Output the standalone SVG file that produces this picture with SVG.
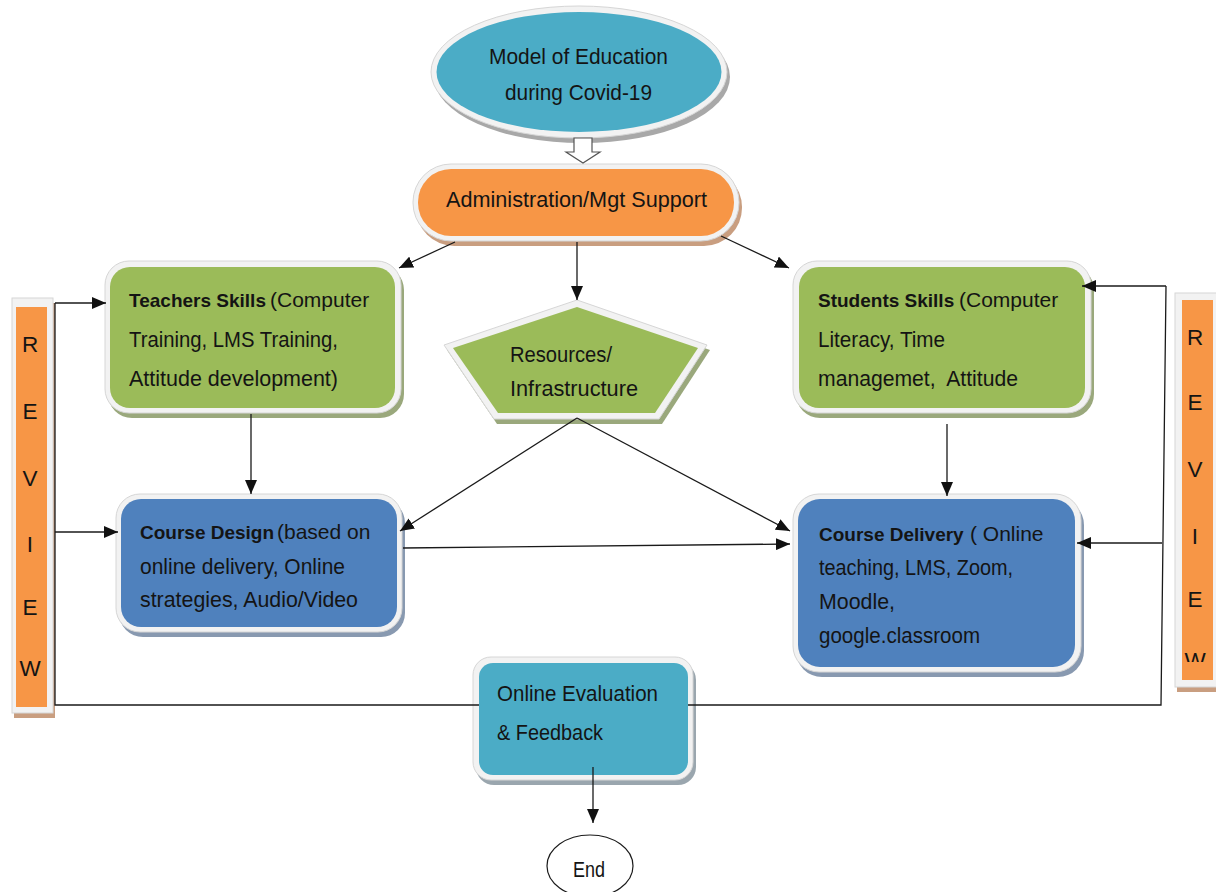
<svg xmlns="http://www.w3.org/2000/svg" width="1216" height="892" viewBox="0 0 1216 892">
<defs>
<style>
.t{font-family:"Liberation Sans",Arial,sans-serif;font-size:22.5px;fill:#141414}
.s{font-size:21px}
.b{font-weight:bold;font-size:19px}
.m{text-anchor:middle}
.rim{fill:#f2f2f2;stroke:#d6d6d6;stroke-width:1}
.c{fill:none;stroke:#1a1a1a;stroke-width:1.3}
</style>
<marker id="ah" viewBox="0 0 14 12" refX="14" refY="6" markerWidth="14" markerHeight="12" orient="auto" markerUnits="userSpaceOnUse"><path d="M0,0 L14,6 L0,12 z" fill="#111"/></marker>
<clipPath id="rclip"><rect x="1170" y="290" width="46" height="372"/></clipPath>
</defs>
<rect width="1216" height="892" fill="#ffffff"/>

<g id="start">
<ellipse cx="582" cy="77" rx="148" ry="66" fill="#a8a8a8"/>
<ellipse cx="579" cy="72" rx="148" ry="66" class="rim"/>
<ellipse cx="579" cy="72" rx="142.5" ry="60" fill="#4bacc6"/>
<text class="t" x="489" y="64" textLength="179" lengthAdjust="spacingAndGlyphs">Model of Education</text>
<text class="t" x="505" y="100" textLength="147" lengthAdjust="spacingAndGlyphs">during Covid-19</text>
</g>

<g id="admin">
<rect x="416" y="169" width="326" height="77" rx="38" fill="#c99e80"/>
<rect x="413" y="164" width="326" height="77" rx="38" class="rim"/>
<rect x="418" y="169" width="316" height="67" rx="33" fill="#f79646"/>
<text class="t" x="446" y="207" textLength="261" lengthAdjust="spacingAndGlyphs">Administration/Mgt Support</text>
</g>

<g id="teachers">
<rect x="108" y="266" width="296" height="152" rx="24" fill="#9aa87c"/>
<rect x="105" y="261" width="296" height="152" rx="24" class="rim"/>
<rect x="110" y="267" width="285" height="141" rx="20" fill="#9bbb59"/>
<text class="t b" x="129" y="307">Teachers Skills</text>
<text class="t s" x="270" y="307">(Computer</text>
<text class="t" x="129" y="347" textLength="209" lengthAdjust="spacingAndGlyphs">Training, LMS Training,</text>
<text class="t" x="129" y="386" textLength="209" lengthAdjust="spacingAndGlyphs">Attitude development)</text>
</g>

<g id="students">
<rect x="796" y="266" width="298" height="152" rx="24" fill="#9aa87c"/>
<rect x="793" y="261" width="298" height="152" rx="24" class="rim"/>
<rect x="799" y="267" width="286" height="141" rx="20" fill="#9bbb59"/>
<text class="t b" x="818" y="307">Students Skills</text>
<text class="t s" x="959" y="307">(Computer</text>
<text class="t" x="818" y="347" textLength="127" lengthAdjust="spacingAndGlyphs">Literacy, Time</text>
<text class="t" x="818" y="386" textLength="200" lengthAdjust="spacingAndGlyphs" xml:space="preserve">managemet,  Attitude</text>
</g>

<g id="resources">
<polygon points="580,305 710,350 662,424 497,424 447,350" fill="#9aa87c"/>
<polygon points="577,300 707,345 659,419 494,419 444,345" class="rim"/>
<polygon points="577,307 698,348 655,413 498,413 453,348" fill="#9bbb59"/>
<text class="t" x="510" y="362" textLength="102" lengthAdjust="spacingAndGlyphs">Resources/</text>
<text class="t" x="510" y="396" textLength="128" lengthAdjust="spacingAndGlyphs">Infrastructure</text>
</g>

<g id="design">
<rect x="119" y="499" width="286" height="138" rx="24" fill="#8899b0"/>
<rect x="116" y="494" width="286" height="138" rx="24" class="rim"/>
<rect x="121" y="499" width="276" height="128" rx="20" fill="#4f81bd"/>
<text class="t b" x="140" y="539">Course Design</text>
<text class="t s" x="277" y="539">(based on</text>
<text class="t" x="140" y="574" textLength="205" lengthAdjust="spacingAndGlyphs">online delivery, Online</text>
<text class="t" x="140" y="607" textLength="218" lengthAdjust="spacingAndGlyphs">strategies, Audio/Video</text>
</g>

<g id="delivery">
<rect x="796" y="499" width="288" height="178" rx="26" fill="#8899b0"/>
<rect x="793" y="494" width="288" height="178" rx="26" class="rim"/>
<rect x="798" y="499" width="277" height="168" rx="22" fill="#4f81bd"/>
<text class="t b" x="819" y="541">Course Delivery</text>
<text class="t s" x="970" y="541">( Online</text>
<text class="t" x="819" y="575" textLength="194" lengthAdjust="spacingAndGlyphs">teaching, LMS, Zoom,</text>
<text class="t" x="819" y="609" textLength="76" lengthAdjust="spacingAndGlyphs">Moodle,</text>
<text class="t" x="819" y="643" textLength="161" lengthAdjust="spacingAndGlyphs">google.classroom</text>
</g>

<g id="evaluation">
<rect x="476" y="662" width="220" height="123" rx="18" fill="#9aa6ae"/>
<rect x="473" y="657" width="220" height="123" rx="18" class="rim"/>
<rect x="479" y="663" width="209" height="112" rx="14" fill="#4bacc6"/>
<text class="t" x="497" y="701" textLength="161" lengthAdjust="spacingAndGlyphs">Online Evaluation</text>
<text class="t" x="497" y="740" textLength="106" lengthAdjust="spacingAndGlyphs">&amp; Feedback</text>
</g>

<g id="end">
<ellipse cx="590" cy="866" rx="43" ry="31" fill="#ffffff" stroke="#1a1a1a" stroke-width="1.2"/>
<text class="t m" x="589" y="877" textLength="32" lengthAdjust="spacingAndGlyphs">End</text>
</g>

<g id="review-left">
<rect x="14" y="303" width="41" height="415" fill="#c99e80"/>
<rect x="12" y="298" width="41" height="415" class="rim"/>
<rect x="16" y="307" width="31" height="400" fill="#f79646"/>
<text class="t m" x="30" y="352">R</text>
<text class="t m" x="30" y="419">E</text>
<text class="t m" x="30" y="486">V</text>
<text class="t m" x="30" y="552">I</text>
<text class="t m" x="30" y="615">E</text>
<text class="t m" x="30" y="676">W</text>
</g>

<g id="review-right">
<rect x="1177" y="298" width="45" height="394" fill="#c99e80"/>
<rect x="1175" y="293" width="45" height="394" class="rim"/>
<rect x="1182" y="300" width="31" height="380" fill="#f79646"/>
<g clip-path="url(#rclip)">
<text class="t m" x="1195" y="345">R</text>
<text class="t m" x="1195" y="410">E</text>
<text class="t m" x="1195" y="477">V</text>
<text class="t m" x="1195" y="544">I</text>
<text class="t m" x="1195" y="607">E</text>
<text class="t m" x="1195" y="668">W</text>
</g>
</g>

<g id="connectors">
<polygon points="574,138 592,138 592,152 600,152 583,163 566,152 574,152" fill="#ffffff" stroke="#555" stroke-width="1.2"/>
<path class="c" d="M455,242 L399,268" marker-end="url(#ah)"/>
<path class="c" d="M577,242 V300" marker-end="url(#ah)"/>
<path class="c" d="M721,236 L789,268" marker-end="url(#ah)"/>
<path class="c" d="M251,414 V494" marker-end="url(#ah)"/>
<path class="c" d="M947,424 V496" marker-end="url(#ah)"/>
<path class="c" d="M577,418 L400,531" marker-end="url(#ah)"/>
<path class="c" d="M577,418 L790,531" marker-end="url(#ah)"/>
<path class="c" d="M403,548 L790,544" marker-end="url(#ah)"/>
<path class="c" d="M55,303 V705 H479"/>
<path class="c" d="M55,303 H106" marker-end="url(#ah)"/>
<path class="c" d="M55,532 H118" marker-end="url(#ah)"/>
<path class="c" d="M1166,286 L1161,705 H688"/>
<path class="c" d="M1166,286 H1082" marker-end="url(#ah)"/>
<path class="c" d="M1162,543 H1077" marker-end="url(#ah)"/>
<path class="c" d="M593,767 V823" marker-end="url(#ah)"/>
</g>
</svg>
